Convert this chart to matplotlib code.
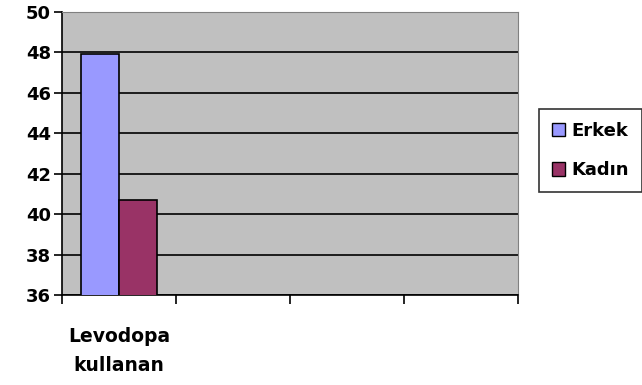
import numpy as np
import matplotlib.pyplot as plt
from matplotlib.patches import Patch

categories = ['Levodopa\nkullanan', '', '', '']
series = ['Erkek', 'Kadın']
erkek = [47.9]
kadin = [40.7]
colors = ['#9999FF', '#993366']

plt.rcParams['font.family'] = ['DejaVu Sans']
plt.rcParams['font.weight'] = 'bold'

fig = plt.figure(figsize=(6.42, 3.85), dpi=100)
ax = fig.add_axes([62/642, 1 - 295/385, (518-62)/642, (295-12)/385])

w = 1/3
x = np.arange(len(erkek))
ax.bar(x - w/2, erkek, w, bottom=0, color=colors[0], edgecolor='black', linewidth=1.2, zorder=3)
ax.bar(x + w/2, kadin, w, bottom=0, color=colors[1], edgecolor='black', linewidth=1.2, zorder=3)

ax.set_xlim(-0.5, len(categories) - 0.5)
ax.set_ylim(36, 50)
ax.set_facecolor('#C0C0C0')
ax.set_yticks(np.arange(36, 51, 2))
ax.set_xticks(np.arange(len(categories) + 1) - 0.5)
ax.set_xticklabels([])
ax.set_xticks(np.arange(len(categories)), minor=True)
ax.set_xticklabels(categories, minor=True, fontsize=13.5, fontweight='bold', linespacing=1.65)
ax.tick_params(axis='x', which='minor', length=0, pad=23)
ax.tick_params(axis='x', which='major', direction='out', length=6.5, width=1.2)
ax.tick_params(axis='y', direction='out', length=6, width=1.2, labelsize=13, pad=2)
for lbl in ax.get_yticklabels():
    lbl.set_fontweight('bold')

ax.yaxis.grid(True, color='black', linewidth=1.2, zorder=1)
ax.spines['left'].set_color('black')
ax.spines['bottom'].set_color('black')
ax.spines['left'].set_linewidth(1.2)
ax.spines['bottom'].set_linewidth(1.2)
ax.spines['top'].set_color('#808080')
ax.spines['right'].set_color('#808080')

handles = [Patch(facecolor=c, edgecolor='black', label=s) for c, s in zip(colors, series)]
leg = fig.legend(handles=handles, loc='upper left', bbox_to_anchor=(539/642, 1 - 109/385),
                 frameon=True, fancybox=False, edgecolor='black', fontsize=13,
                 handlelength=0.75, handleheight=0.75, handletextpad=0.35, borderpad=0.7,
                 labelspacing=1.2, borderaxespad=0)
leg.get_frame().set_linewidth(1.2)
for t in leg.get_texts():
    t.set_fontweight('bold')

fig.savefig('out.png', dpi=100)
